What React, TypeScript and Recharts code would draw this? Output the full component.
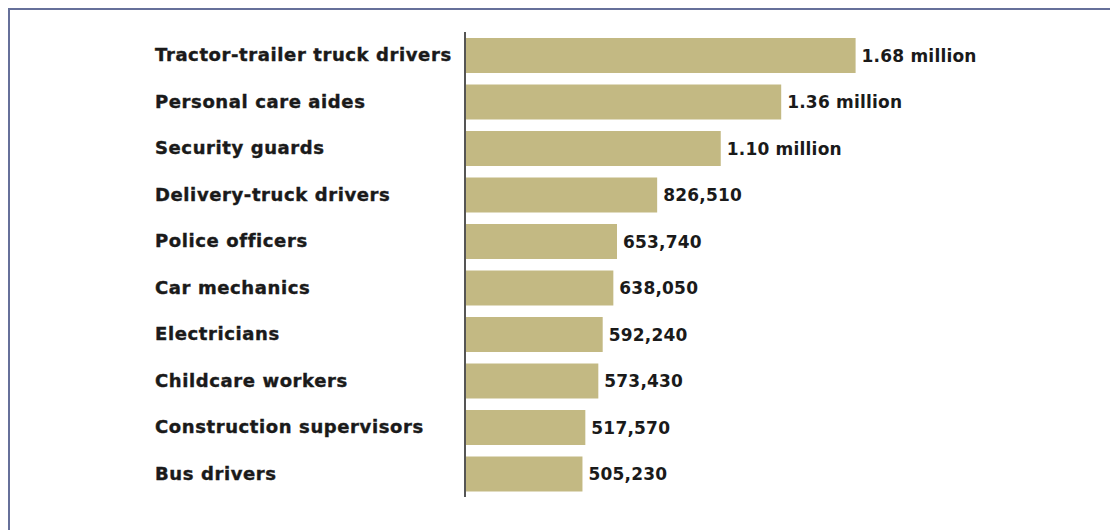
import { Bar, BarChart, LabelList, XAxis, YAxis } from "recharts";

const occupations = [
  "Tractor-trailer truck drivers",
  "Personal care aides",
  "Security guards",
  "Delivery-truck drivers",
  "Police officers",
  "Car mechanics",
  "Electricians",
  "Childcare workers",
  "Construction supervisors",
  "Bus drivers",
];

const workers = [
  1680000, 1360000, 1100000, 826510, 653740, 638050, 592240, 573430, 517570,
  505230,
];

const xDomain = [0, 2000000];

const data = occupations.map((name, i) => ({ name, workers: workers[i] }));

const LABEL_X = 145;

const formatValue = (v: number) =>
  v >= 1000000
    ? `${(v / 1000000).toFixed(2)} million`
    : v.toLocaleString("en-US");

const CategoryTick = (props: any) => {
  const { y, payload } = props;
  return (
    <text
      x={LABEL_X}
      y={y}
      dy={6}
      textAnchor="start"
      fontFamily="'DejaVu Sans', sans-serif"
      fontWeight={700}
      fontSize={18}
      letterSpacing={0.6}
      stroke="#1a1a1a"
      strokeWidth={0.4}
      fill="#1a1a1a"
    >
      {payload.value}
    </text>
  );
};

export default function App() {
  return (
    <div
      style={{
        width: 1110,
        height: 522,
        borderTop: "2px solid #66709a",
        borderLeft: "2px solid #66709a",
        boxSizing: "border-box",
        background: "#fff",
      }}
    >
      <BarChart
        width={1108}
        height={520}
        data={data}
        layout="vertical"
        margin={{ top: 22, right: 188, bottom: 33, left: 0 }}
        barCategoryGap={6}
      >
        <XAxis type="number" domain={xDomain} hide />
        <YAxis
          type="category"
          dataKey="name"
          width={455}
          tickLine={false}
          axisLine={{ stroke: "#555", strokeWidth: 2 }}
          tick={<CategoryTick />}
        />
        <Bar dataKey="workers" fill="#c3b983" isAnimationActive={false}>
          <LabelList
            dataKey="workers"
            position="right"
            offset={6}
            formatter={(v: any) => formatValue(Number(v))}
            style={{
              fontFamily: "'DejaVu Sans', sans-serif",
              fontWeight: 700,
              fontSize: 17,
              letterSpacing: 0.2,
              fill: "#1a1a1a",
            }}
          />
        </Bar>
      </BarChart>
    </div>
  );
}
